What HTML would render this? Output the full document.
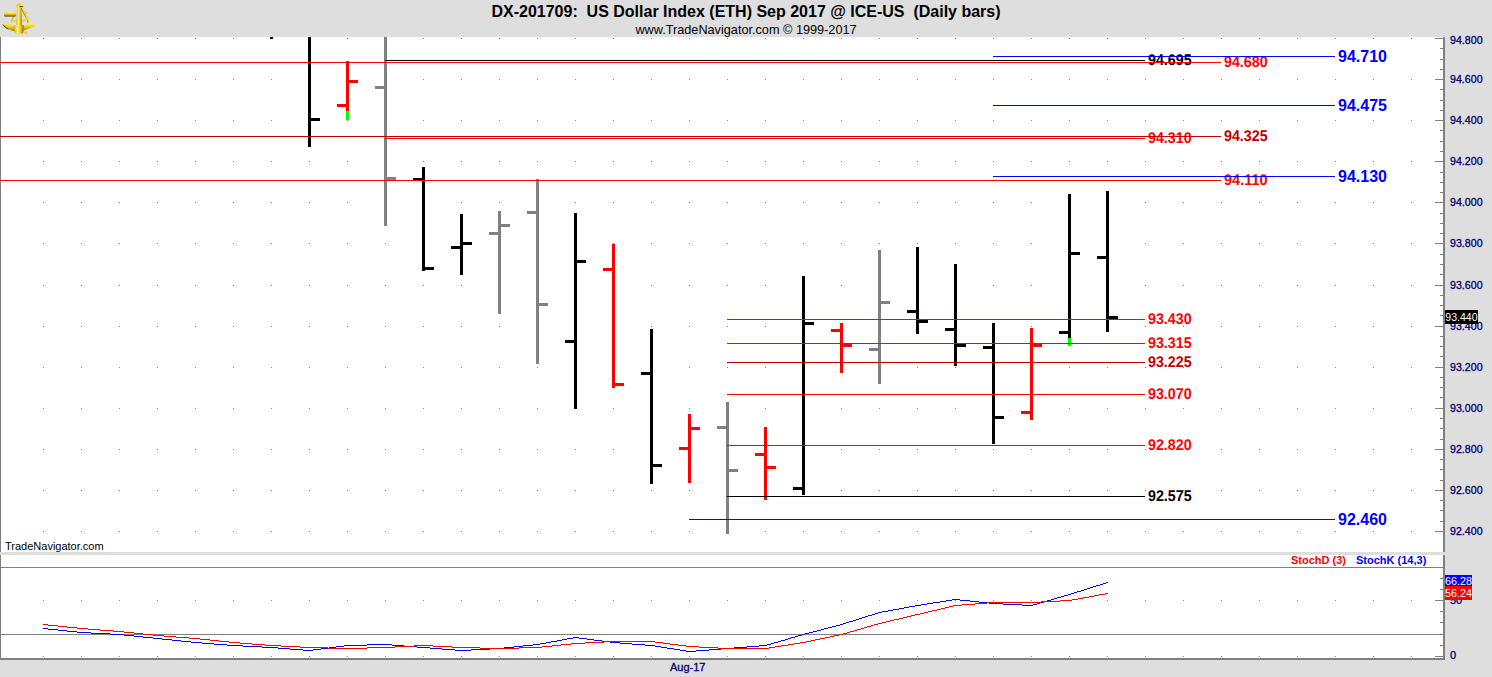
<!DOCTYPE html>
<html><head><meta charset="utf-8"><style>html,body{margin:0;padding:0;width:1492px;height:677px;overflow:hidden;background:#dedede}text{white-space:pre}</style></head>
<body><svg width="1492" height="677" viewBox="0 0 1492 677" shape-rendering="crispEdges" style="display:block"><rect x="0" y="0" width="1492" height="677" fill="#dedede"/>
<rect x="0" y="37" width="1444" height="515" fill="#ffffff"/>
<rect x="0" y="555" width="1444" height="103" fill="#ffffff"/>
<rect x="0" y="37" width="1" height="515" fill="#7f7f7f"/>
<rect x="0" y="555" width="1" height="104" fill="#7f7f7f"/>
<rect x="1443" y="37" width="2" height="515" fill="#7f7f7f"/>
<rect x="1443" y="555" width="2" height="104" fill="#7f7f7f"/>
<rect x="0" y="658" width="1445" height="2" fill="#7f7f7f"/>
<path d="M43 38h1v1h-1zM81 38h1v1h-1zM119 38h1v1h-1zM157 38h1v1h-1zM195 38h1v1h-1zM233 38h1v1h-1zM271 38h1v1h-1zM309 38h1v1h-1zM347 38h1v1h-1zM385 38h1v1h-1zM423 38h1v1h-1zM461 38h1v1h-1zM499 38h1v1h-1zM537 38h1v1h-1zM575 38h1v1h-1zM613 38h1v1h-1zM651 38h1v1h-1zM689 38h1v1h-1zM727 38h1v1h-1zM765 38h1v1h-1zM803 38h1v1h-1zM841 38h1v1h-1zM879 38h1v1h-1zM917 38h1v1h-1zM955 38h1v1h-1zM993 38h1v1h-1zM1031 38h1v1h-1zM1069 38h1v1h-1zM1107 38h1v1h-1zM1145 38h1v1h-1zM1183 38h1v1h-1zM1221 38h1v1h-1zM1259 38h1v1h-1zM1297 38h1v1h-1zM1335 38h1v1h-1zM1373 38h1v1h-1zM1411 38h1v1h-1zM43 79h1v1h-1zM81 79h1v1h-1zM119 79h1v1h-1zM157 79h1v1h-1zM195 79h1v1h-1zM233 79h1v1h-1zM271 79h1v1h-1zM309 79h1v1h-1zM347 79h1v1h-1zM385 79h1v1h-1zM423 79h1v1h-1zM461 79h1v1h-1zM499 79h1v1h-1zM537 79h1v1h-1zM575 79h1v1h-1zM613 79h1v1h-1zM651 79h1v1h-1zM689 79h1v1h-1zM727 79h1v1h-1zM765 79h1v1h-1zM803 79h1v1h-1zM841 79h1v1h-1zM879 79h1v1h-1zM917 79h1v1h-1zM955 79h1v1h-1zM993 79h1v1h-1zM1031 79h1v1h-1zM1069 79h1v1h-1zM1107 79h1v1h-1zM1145 79h1v1h-1zM1183 79h1v1h-1zM1221 79h1v1h-1zM1259 79h1v1h-1zM1297 79h1v1h-1zM1335 79h1v1h-1zM1373 79h1v1h-1zM1411 79h1v1h-1zM43 120h1v1h-1zM81 120h1v1h-1zM119 120h1v1h-1zM157 120h1v1h-1zM195 120h1v1h-1zM233 120h1v1h-1zM271 120h1v1h-1zM309 120h1v1h-1zM347 120h1v1h-1zM385 120h1v1h-1zM423 120h1v1h-1zM461 120h1v1h-1zM499 120h1v1h-1zM537 120h1v1h-1zM575 120h1v1h-1zM613 120h1v1h-1zM651 120h1v1h-1zM689 120h1v1h-1zM727 120h1v1h-1zM765 120h1v1h-1zM803 120h1v1h-1zM841 120h1v1h-1zM879 120h1v1h-1zM917 120h1v1h-1zM955 120h1v1h-1zM993 120h1v1h-1zM1031 120h1v1h-1zM1069 120h1v1h-1zM1107 120h1v1h-1zM1145 120h1v1h-1zM1183 120h1v1h-1zM1221 120h1v1h-1zM1259 120h1v1h-1zM1297 120h1v1h-1zM1335 120h1v1h-1zM1373 120h1v1h-1zM1411 120h1v1h-1zM43 161h1v1h-1zM81 161h1v1h-1zM119 161h1v1h-1zM157 161h1v1h-1zM195 161h1v1h-1zM233 161h1v1h-1zM271 161h1v1h-1zM309 161h1v1h-1zM347 161h1v1h-1zM385 161h1v1h-1zM423 161h1v1h-1zM461 161h1v1h-1zM499 161h1v1h-1zM537 161h1v1h-1zM575 161h1v1h-1zM613 161h1v1h-1zM651 161h1v1h-1zM689 161h1v1h-1zM727 161h1v1h-1zM765 161h1v1h-1zM803 161h1v1h-1zM841 161h1v1h-1zM879 161h1v1h-1zM917 161h1v1h-1zM955 161h1v1h-1zM993 161h1v1h-1zM1031 161h1v1h-1zM1069 161h1v1h-1zM1107 161h1v1h-1zM1145 161h1v1h-1zM1183 161h1v1h-1zM1221 161h1v1h-1zM1259 161h1v1h-1zM1297 161h1v1h-1zM1335 161h1v1h-1zM1373 161h1v1h-1zM1411 161h1v1h-1zM43 202h1v1h-1zM81 202h1v1h-1zM119 202h1v1h-1zM157 202h1v1h-1zM195 202h1v1h-1zM233 202h1v1h-1zM271 202h1v1h-1zM309 202h1v1h-1zM347 202h1v1h-1zM385 202h1v1h-1zM423 202h1v1h-1zM461 202h1v1h-1zM499 202h1v1h-1zM537 202h1v1h-1zM575 202h1v1h-1zM613 202h1v1h-1zM651 202h1v1h-1zM689 202h1v1h-1zM727 202h1v1h-1zM765 202h1v1h-1zM803 202h1v1h-1zM841 202h1v1h-1zM879 202h1v1h-1zM917 202h1v1h-1zM955 202h1v1h-1zM993 202h1v1h-1zM1031 202h1v1h-1zM1069 202h1v1h-1zM1107 202h1v1h-1zM1145 202h1v1h-1zM1183 202h1v1h-1zM1221 202h1v1h-1zM1259 202h1v1h-1zM1297 202h1v1h-1zM1335 202h1v1h-1zM1373 202h1v1h-1zM1411 202h1v1h-1zM43 243h1v1h-1zM81 243h1v1h-1zM119 243h1v1h-1zM157 243h1v1h-1zM195 243h1v1h-1zM233 243h1v1h-1zM271 243h1v1h-1zM309 243h1v1h-1zM347 243h1v1h-1zM385 243h1v1h-1zM423 243h1v1h-1zM461 243h1v1h-1zM499 243h1v1h-1zM537 243h1v1h-1zM575 243h1v1h-1zM613 243h1v1h-1zM651 243h1v1h-1zM689 243h1v1h-1zM727 243h1v1h-1zM765 243h1v1h-1zM803 243h1v1h-1zM841 243h1v1h-1zM879 243h1v1h-1zM917 243h1v1h-1zM955 243h1v1h-1zM993 243h1v1h-1zM1031 243h1v1h-1zM1069 243h1v1h-1zM1107 243h1v1h-1zM1145 243h1v1h-1zM1183 243h1v1h-1zM1221 243h1v1h-1zM1259 243h1v1h-1zM1297 243h1v1h-1zM1335 243h1v1h-1zM1373 243h1v1h-1zM1411 243h1v1h-1zM43 285h1v1h-1zM81 285h1v1h-1zM119 285h1v1h-1zM157 285h1v1h-1zM195 285h1v1h-1zM233 285h1v1h-1zM271 285h1v1h-1zM309 285h1v1h-1zM347 285h1v1h-1zM385 285h1v1h-1zM423 285h1v1h-1zM461 285h1v1h-1zM499 285h1v1h-1zM537 285h1v1h-1zM575 285h1v1h-1zM613 285h1v1h-1zM651 285h1v1h-1zM689 285h1v1h-1zM727 285h1v1h-1zM765 285h1v1h-1zM803 285h1v1h-1zM841 285h1v1h-1zM879 285h1v1h-1zM917 285h1v1h-1zM955 285h1v1h-1zM993 285h1v1h-1zM1031 285h1v1h-1zM1069 285h1v1h-1zM1107 285h1v1h-1zM1145 285h1v1h-1zM1183 285h1v1h-1zM1221 285h1v1h-1zM1259 285h1v1h-1zM1297 285h1v1h-1zM1335 285h1v1h-1zM1373 285h1v1h-1zM1411 285h1v1h-1zM43 326h1v1h-1zM81 326h1v1h-1zM119 326h1v1h-1zM157 326h1v1h-1zM195 326h1v1h-1zM233 326h1v1h-1zM271 326h1v1h-1zM309 326h1v1h-1zM347 326h1v1h-1zM385 326h1v1h-1zM423 326h1v1h-1zM461 326h1v1h-1zM499 326h1v1h-1zM537 326h1v1h-1zM575 326h1v1h-1zM613 326h1v1h-1zM651 326h1v1h-1zM689 326h1v1h-1zM727 326h1v1h-1zM765 326h1v1h-1zM803 326h1v1h-1zM841 326h1v1h-1zM879 326h1v1h-1zM917 326h1v1h-1zM955 326h1v1h-1zM993 326h1v1h-1zM1031 326h1v1h-1zM1069 326h1v1h-1zM1107 326h1v1h-1zM1145 326h1v1h-1zM1183 326h1v1h-1zM1221 326h1v1h-1zM1259 326h1v1h-1zM1297 326h1v1h-1zM1335 326h1v1h-1zM1373 326h1v1h-1zM1411 326h1v1h-1zM43 367h1v1h-1zM81 367h1v1h-1zM119 367h1v1h-1zM157 367h1v1h-1zM195 367h1v1h-1zM233 367h1v1h-1zM271 367h1v1h-1zM309 367h1v1h-1zM347 367h1v1h-1zM385 367h1v1h-1zM423 367h1v1h-1zM461 367h1v1h-1zM499 367h1v1h-1zM537 367h1v1h-1zM575 367h1v1h-1zM613 367h1v1h-1zM651 367h1v1h-1zM689 367h1v1h-1zM727 367h1v1h-1zM765 367h1v1h-1zM803 367h1v1h-1zM841 367h1v1h-1zM879 367h1v1h-1zM917 367h1v1h-1zM955 367h1v1h-1zM993 367h1v1h-1zM1031 367h1v1h-1zM1069 367h1v1h-1zM1107 367h1v1h-1zM1145 367h1v1h-1zM1183 367h1v1h-1zM1221 367h1v1h-1zM1259 367h1v1h-1zM1297 367h1v1h-1zM1335 367h1v1h-1zM1373 367h1v1h-1zM1411 367h1v1h-1zM43 408h1v1h-1zM81 408h1v1h-1zM119 408h1v1h-1zM157 408h1v1h-1zM195 408h1v1h-1zM233 408h1v1h-1zM271 408h1v1h-1zM309 408h1v1h-1zM347 408h1v1h-1zM385 408h1v1h-1zM423 408h1v1h-1zM461 408h1v1h-1zM499 408h1v1h-1zM537 408h1v1h-1zM575 408h1v1h-1zM613 408h1v1h-1zM651 408h1v1h-1zM689 408h1v1h-1zM727 408h1v1h-1zM765 408h1v1h-1zM803 408h1v1h-1zM841 408h1v1h-1zM879 408h1v1h-1zM917 408h1v1h-1zM955 408h1v1h-1zM993 408h1v1h-1zM1031 408h1v1h-1zM1069 408h1v1h-1zM1107 408h1v1h-1zM1145 408h1v1h-1zM1183 408h1v1h-1zM1221 408h1v1h-1zM1259 408h1v1h-1zM1297 408h1v1h-1zM1335 408h1v1h-1zM1373 408h1v1h-1zM1411 408h1v1h-1zM43 449h1v1h-1zM81 449h1v1h-1zM119 449h1v1h-1zM157 449h1v1h-1zM195 449h1v1h-1zM233 449h1v1h-1zM271 449h1v1h-1zM309 449h1v1h-1zM347 449h1v1h-1zM385 449h1v1h-1zM423 449h1v1h-1zM461 449h1v1h-1zM499 449h1v1h-1zM537 449h1v1h-1zM575 449h1v1h-1zM613 449h1v1h-1zM651 449h1v1h-1zM689 449h1v1h-1zM727 449h1v1h-1zM765 449h1v1h-1zM803 449h1v1h-1zM841 449h1v1h-1zM879 449h1v1h-1zM917 449h1v1h-1zM955 449h1v1h-1zM993 449h1v1h-1zM1031 449h1v1h-1zM1069 449h1v1h-1zM1107 449h1v1h-1zM1145 449h1v1h-1zM1183 449h1v1h-1zM1221 449h1v1h-1zM1259 449h1v1h-1zM1297 449h1v1h-1zM1335 449h1v1h-1zM1373 449h1v1h-1zM1411 449h1v1h-1zM43 490h1v1h-1zM81 490h1v1h-1zM119 490h1v1h-1zM157 490h1v1h-1zM195 490h1v1h-1zM233 490h1v1h-1zM271 490h1v1h-1zM309 490h1v1h-1zM347 490h1v1h-1zM385 490h1v1h-1zM423 490h1v1h-1zM461 490h1v1h-1zM499 490h1v1h-1zM537 490h1v1h-1zM575 490h1v1h-1zM613 490h1v1h-1zM651 490h1v1h-1zM689 490h1v1h-1zM727 490h1v1h-1zM765 490h1v1h-1zM803 490h1v1h-1zM841 490h1v1h-1zM879 490h1v1h-1zM917 490h1v1h-1zM955 490h1v1h-1zM993 490h1v1h-1zM1031 490h1v1h-1zM1069 490h1v1h-1zM1107 490h1v1h-1zM1145 490h1v1h-1zM1183 490h1v1h-1zM1221 490h1v1h-1zM1259 490h1v1h-1zM1297 490h1v1h-1zM1335 490h1v1h-1zM1373 490h1v1h-1zM1411 490h1v1h-1zM43 531h1v1h-1zM81 531h1v1h-1zM119 531h1v1h-1zM157 531h1v1h-1zM195 531h1v1h-1zM233 531h1v1h-1zM271 531h1v1h-1zM309 531h1v1h-1zM347 531h1v1h-1zM385 531h1v1h-1zM423 531h1v1h-1zM461 531h1v1h-1zM499 531h1v1h-1zM537 531h1v1h-1zM575 531h1v1h-1zM613 531h1v1h-1zM651 531h1v1h-1zM689 531h1v1h-1zM727 531h1v1h-1zM765 531h1v1h-1zM803 531h1v1h-1zM841 531h1v1h-1zM879 531h1v1h-1zM917 531h1v1h-1zM955 531h1v1h-1zM993 531h1v1h-1zM1031 531h1v1h-1zM1069 531h1v1h-1zM1107 531h1v1h-1zM1145 531h1v1h-1zM1183 531h1v1h-1zM1221 531h1v1h-1zM1259 531h1v1h-1zM1297 531h1v1h-1zM1335 531h1v1h-1zM1373 531h1v1h-1zM1411 531h1v1h-1zM43 600h1v1h-1zM81 600h1v1h-1zM119 600h1v1h-1zM157 600h1v1h-1zM195 600h1v1h-1zM233 600h1v1h-1zM271 600h1v1h-1zM309 600h1v1h-1zM347 600h1v1h-1zM385 600h1v1h-1zM423 600h1v1h-1zM461 600h1v1h-1zM499 600h1v1h-1zM537 600h1v1h-1zM575 600h1v1h-1zM613 600h1v1h-1zM651 600h1v1h-1zM689 600h1v1h-1zM727 600h1v1h-1zM765 600h1v1h-1zM803 600h1v1h-1zM841 600h1v1h-1zM879 600h1v1h-1zM917 600h1v1h-1zM955 600h1v1h-1zM993 600h1v1h-1zM1031 600h1v1h-1zM1069 600h1v1h-1zM1107 600h1v1h-1zM1145 600h1v1h-1zM1183 600h1v1h-1zM1221 600h1v1h-1zM1259 600h1v1h-1zM1297 600h1v1h-1zM1335 600h1v1h-1zM1373 600h1v1h-1zM1411 600h1v1h-1zM43 656h1v1h-1zM81 656h1v1h-1zM119 656h1v1h-1zM157 656h1v1h-1zM195 656h1v1h-1zM233 656h1v1h-1zM271 656h1v1h-1zM309 656h1v1h-1zM347 656h1v1h-1zM385 656h1v1h-1zM423 656h1v1h-1zM461 656h1v1h-1zM499 656h1v1h-1zM537 656h1v1h-1zM575 656h1v1h-1zM613 656h1v1h-1zM651 656h1v1h-1zM689 656h1v1h-1zM727 656h1v1h-1zM765 656h1v1h-1zM803 656h1v1h-1zM841 656h1v1h-1zM879 656h1v1h-1zM917 656h1v1h-1zM955 656h1v1h-1zM993 656h1v1h-1zM1031 656h1v1h-1zM1069 656h1v1h-1zM1107 656h1v1h-1zM1145 656h1v1h-1zM1183 656h1v1h-1zM1221 656h1v1h-1zM1259 656h1v1h-1zM1297 656h1v1h-1zM1335 656h1v1h-1zM1373 656h1v1h-1zM1411 656h1v1h-1z" fill="#808080"/>
<rect x="1" y="567" width="1442" height="1" fill="#808080"/>
<rect x="1" y="634" width="1442" height="1" fill="#808080"/>
<path d="M1435 38h8v1h-8zM1440 48h3v1h-3zM1440 59h3v1h-3zM1440 69h3v1h-3zM1435 79h8v1h-8zM1440 89h3v1h-3zM1440 100h3v1h-3zM1440 110h3v1h-3zM1435 120h8v1h-8zM1440 130h3v1h-3zM1440 141h3v1h-3zM1440 151h3v1h-3zM1435 161h8v1h-8zM1440 172h3v1h-3zM1440 182h3v1h-3zM1440 192h3v1h-3zM1435 202h8v1h-8zM1440 213h3v1h-3zM1440 223h3v1h-3zM1440 233h3v1h-3zM1435 243h8v1h-8zM1440 254h3v1h-3zM1440 264h3v1h-3zM1440 274h3v1h-3zM1435 285h8v1h-8zM1440 295h3v1h-3zM1440 305h3v1h-3zM1440 315h3v1h-3zM1435 326h8v1h-8zM1440 336h3v1h-3zM1440 346h3v1h-3zM1440 356h3v1h-3zM1435 367h8v1h-8zM1440 377h3v1h-3zM1440 387h3v1h-3zM1440 397h3v1h-3zM1435 408h8v1h-8zM1440 418h3v1h-3zM1440 428h3v1h-3zM1440 439h3v1h-3zM1435 449h8v1h-8zM1440 459h3v1h-3zM1440 469h3v1h-3zM1440 480h3v1h-3zM1435 490h8v1h-8zM1440 500h3v1h-3zM1440 510h3v1h-3zM1440 521h3v1h-3zM1435 531h8v1h-8zM1435 656h8v1h-8zM1440 645h3v1h-3zM1440 634h3v1h-3zM1440 622h3v1h-3zM1440 611h3v1h-3zM1435 600h8v1h-8zM1440 589h3v1h-3zM1440 578h3v1h-3z" fill="#7f7f7f"/>
<g font-family="Liberation Sans, sans-serif" font-size="11" fill="#000070" stroke="#000070" stroke-width="0.3"><text x="1450" y="44" textLength="32.6" lengthAdjust="spacingAndGlyphs">94.800</text><text x="1450" y="83" textLength="32.6" lengthAdjust="spacingAndGlyphs">94.600</text><text x="1450" y="124" textLength="32.6" lengthAdjust="spacingAndGlyphs">94.400</text><text x="1450" y="165" textLength="32.6" lengthAdjust="spacingAndGlyphs">94.200</text><text x="1450" y="206" textLength="32.6" lengthAdjust="spacingAndGlyphs">94.000</text><text x="1450" y="247" textLength="32.6" lengthAdjust="spacingAndGlyphs">93.800</text><text x="1450" y="289" textLength="32.6" lengthAdjust="spacingAndGlyphs">93.600</text><text x="1450" y="330" textLength="32.6" lengthAdjust="spacingAndGlyphs">93.400</text><text x="1450" y="371" textLength="32.6" lengthAdjust="spacingAndGlyphs">93.200</text><text x="1450" y="412" textLength="32.6" lengthAdjust="spacingAndGlyphs">93.000</text><text x="1450" y="453" textLength="32.6" lengthAdjust="spacingAndGlyphs">92.800</text><text x="1450" y="494" textLength="32.6" lengthAdjust="spacingAndGlyphs">92.600</text><text x="1450" y="535" textLength="32.6" lengthAdjust="spacingAndGlyphs">92.400</text><text x="1450" y="604">50</text><text x="1450" y="659">0</text></g>
<rect x="270" y="37" width="3" height="2" fill="#000000"/>
<rect x="308" y="37" width="3" height="110" fill="#000000"/>
<rect x="311" y="118" width="9" height="3" fill="#000000"/>
<rect x="346" y="61" width="3" height="59" fill="#ff0000"/>
<rect x="337" y="104" width="9" height="3" fill="#ff0000"/>
<rect x="349" y="80" width="9" height="3" fill="#ff0000"/>
<rect x="384" y="37" width="3" height="189" fill="#808080"/>
<rect x="375" y="86" width="9" height="3" fill="#808080"/>
<rect x="387" y="177" width="9" height="3" fill="#808080"/>
<rect x="422" y="167" width="3" height="104" fill="#000000"/>
<rect x="413" y="178" width="9" height="3" fill="#000000"/>
<rect x="425" y="267" width="9" height="3" fill="#000000"/>
<rect x="460" y="214" width="3" height="61" fill="#000000"/>
<rect x="451" y="246" width="9" height="3" fill="#000000"/>
<rect x="463" y="242" width="9" height="3" fill="#000000"/>
<rect x="498" y="211" width="3" height="103" fill="#808080"/>
<rect x="489" y="232" width="9" height="3" fill="#808080"/>
<rect x="501" y="224" width="9" height="3" fill="#808080"/>
<rect x="536" y="179" width="3" height="185" fill="#808080"/>
<rect x="527" y="211" width="9" height="3" fill="#808080"/>
<rect x="539" y="303" width="9" height="3" fill="#808080"/>
<rect x="574" y="213" width="3" height="196" fill="#000000"/>
<rect x="565" y="340" width="9" height="3" fill="#000000"/>
<rect x="577" y="260" width="9" height="3" fill="#000000"/>
<rect x="612" y="244" width="3" height="144" fill="#ff0000"/>
<rect x="603" y="268" width="9" height="3" fill="#ff0000"/>
<rect x="615" y="383" width="9" height="3" fill="#ff0000"/>
<rect x="650" y="329" width="3" height="155" fill="#000000"/>
<rect x="641" y="372" width="9" height="3" fill="#000000"/>
<rect x="653" y="464" width="9" height="3" fill="#000000"/>
<rect x="688" y="414" width="3" height="69" fill="#ff0000"/>
<rect x="679" y="447" width="9" height="3" fill="#ff0000"/>
<rect x="691" y="427" width="9" height="3" fill="#ff0000"/>
<rect x="726" y="402" width="3" height="132" fill="#808080"/>
<rect x="717" y="426" width="9" height="3" fill="#808080"/>
<rect x="729" y="469" width="9" height="3" fill="#808080"/>
<rect x="764" y="427" width="3" height="73" fill="#ff0000"/>
<rect x="755" y="453" width="9" height="3" fill="#ff0000"/>
<rect x="767" y="466" width="9" height="3" fill="#ff0000"/>
<rect x="802" y="276" width="3" height="219" fill="#000000"/>
<rect x="793" y="487" width="9" height="3" fill="#000000"/>
<rect x="805" y="322" width="9" height="3" fill="#000000"/>
<rect x="840" y="323" width="3" height="50" fill="#ff0000"/>
<rect x="831" y="329" width="9" height="3" fill="#ff0000"/>
<rect x="843" y="344" width="9" height="3" fill="#ff0000"/>
<rect x="878" y="250" width="3" height="134" fill="#808080"/>
<rect x="869" y="348" width="9" height="3" fill="#808080"/>
<rect x="881" y="301" width="9" height="3" fill="#808080"/>
<rect x="916" y="247" width="3" height="87" fill="#000000"/>
<rect x="907" y="310" width="9" height="3" fill="#000000"/>
<rect x="919" y="320" width="9" height="3" fill="#000000"/>
<rect x="954" y="264" width="3" height="102" fill="#000000"/>
<rect x="945" y="328" width="9" height="3" fill="#000000"/>
<rect x="957" y="344" width="9" height="3" fill="#000000"/>
<rect x="992" y="323" width="3" height="121" fill="#000000"/>
<rect x="983" y="346" width="9" height="3" fill="#000000"/>
<rect x="995" y="416" width="9" height="3" fill="#000000"/>
<rect x="1030" y="328" width="3" height="92" fill="#ff0000"/>
<rect x="1021" y="411" width="9" height="3" fill="#ff0000"/>
<rect x="1033" y="344" width="9" height="3" fill="#ff0000"/>
<rect x="1068" y="194" width="3" height="152" fill="#000000"/>
<rect x="1059" y="331" width="9" height="3" fill="#000000"/>
<rect x="1071" y="252" width="9" height="3" fill="#000000"/>
<rect x="1106" y="191" width="3" height="141" fill="#000000"/>
<rect x="1097" y="256" width="9" height="3" fill="#000000"/>
<rect x="1109" y="316" width="9" height="3" fill="#000000"/>
<rect x="346" y="111" width="3" height="9" fill="#00ff00"/>
<rect x="1068" y="338" width="3" height="8" fill="#00ff00"/>
<g font-family="Liberation Sans, sans-serif" font-weight="bold"><text x="1224" y="66.6" fill="#ff0000" font-size="15.5" text-rendering="geometricPrecision" textLength="43.6" lengthAdjust="spacingAndGlyphs">94.680</text><text x="1224" y="140.6" fill="#c00000" font-size="15.5" text-rendering="geometricPrecision" textLength="43.6" lengthAdjust="spacingAndGlyphs">94.325</text><text x="1224" y="184.6" fill="#ff0000" font-size="15.5" text-rendering="geometricPrecision" textLength="43.6" lengthAdjust="spacingAndGlyphs">94.110</text><text x="1148" y="64.6" fill="#000000" font-size="15.5" text-rendering="geometricPrecision" textLength="43.6" lengthAdjust="spacingAndGlyphs">94.695</text><text x="1148" y="142.6" fill="#ff0000" font-size="15.5" text-rendering="geometricPrecision" textLength="43.6" lengthAdjust="spacingAndGlyphs">94.310</text><text x="1148" y="323.6" fill="#ff0000" font-size="15.5" text-rendering="geometricPrecision" textLength="43.6" lengthAdjust="spacingAndGlyphs">93.430</text><text x="1148" y="347.6" fill="#ff0000" font-size="15.5" text-rendering="geometricPrecision" textLength="43.6" lengthAdjust="spacingAndGlyphs">93.315</text><text x="1148" y="366.6" fill="#c00000" font-size="15.5" text-rendering="geometricPrecision" textLength="43.6" lengthAdjust="spacingAndGlyphs">93.225</text><text x="1148" y="398.6" fill="#ff0000" font-size="15.5" text-rendering="geometricPrecision" textLength="43.6" lengthAdjust="spacingAndGlyphs">93.070</text><text x="1148" y="449.6" fill="#ff0000" font-size="15.5" text-rendering="geometricPrecision" textLength="43.6" lengthAdjust="spacingAndGlyphs">92.820</text><text x="1148" y="500.6" fill="#000000" font-size="15.5" text-rendering="geometricPrecision" textLength="43.6" lengthAdjust="spacingAndGlyphs">92.575</text><text x="1338" y="62" fill="#0000ff" font-size="16">94.710</text><text x="1338" y="111" fill="#0000ff" font-size="16">94.475</text><text x="1338" y="182" fill="#0000ff" font-size="16">94.130</text><text x="1338" y="525" fill="#0000ff" font-size="16">92.460</text></g>
<rect x="0" y="62" width="1221" height="1" fill="#ff0000"/>
<rect x="0" y="136" width="1221" height="1" fill="#c00000"/>
<rect x="0" y="180" width="1221" height="1" fill="#ff0000"/>
<rect x="385" y="60" width="760" height="1" fill="#000000"/>
<rect x="385" y="138" width="760" height="1" fill="#ff0000"/>
<rect x="727" y="319" width="418" height="1" fill="#ff0000"/>
<rect x="727" y="343" width="418" height="1" fill="#ff0000"/>
<rect x="727" y="362" width="418" height="1" fill="#c00000"/>
<rect x="727" y="394" width="418" height="1" fill="#ff0000"/>
<rect x="727" y="445" width="418" height="1" fill="#ff0000"/>
<rect x="727" y="496" width="418" height="1" fill="#000000"/>
<rect x="993" y="56" width="342" height="1" fill="#0000ff"/>
<rect x="993" y="105" width="342" height="1" fill="#0000ff"/>
<rect x="993" y="176" width="342" height="1" fill="#0000ff"/>
<rect x="689" y="519" width="646" height="1" fill="#0000ff"/>
<path d="M43 628h5v1h-5zM48 629h10v1h-10zM58 630h9v1h-9zM67 631h10v1h-10zM77 632h14v1h-14zM91 633h19v1h-19zM110 634h14v1h-14zM124 635h10v1h-10zM134 636h9v1h-9zM143 637h10v1h-10zM153 638h9v1h-9zM162 639h10v1h-10zM172 640h9v1h-9zM181 641h10v1h-10zM191 642h11v1h-11zM202 643h12v1h-12zM214 644h13v1h-13zM227 645h16v1h-16zM243 646h19v1h-19zM262 647h16v1h-16zM278 648h12v1h-12zM290 649h13v1h-13zM303 650h10v1h-10zM313 649h8v1h-8zM321 648h8v1h-8zM329 647h7v1h-7zM336 646h8v1h-8zM344 645h23v1h-23zM367 644h25v1h-25zM392 645h12v1h-12zM404 646h13v1h-13zM417 647h13v1h-13zM430 648h12v1h-12zM442 649h13v1h-13zM455 650h16v1h-16zM471 649h19v1h-19zM490 648h14v1h-14zM504 647h10v1h-10zM514 646h9v1h-9zM523 645h10v1h-10zM533 644h7v1h-7zM540 643h6v1h-6zM546 642h5v1h-5zM551 641h6v1h-6zM557 640h5v1h-5zM562 639h5v1h-5zM567 638h6v1h-6zM573 637h6v1h-6zM579 638h8v1h-8zM587 639h7v1h-7zM594 640h8v1h-8zM602 641h8v1h-8zM610 642h10v1h-10zM620 643h12v1h-12zM632 644h13v1h-13zM645 645h10v1h-10zM655 646h6v1h-6zM661 647h6v1h-6zM667 648h7v1h-7zM674 649h6v1h-6zM680 650h6v1h-6zM686 651h10v1h-10zM696 650h13v1h-13zM709 649h12v1h-12zM721 648h13v1h-13zM734 647h13v1h-13zM747 646h12v1h-12zM759 645h8v1h-8zM767 644h4v1h-4zM771 643h3v1h-3zM774 642h4v1h-4zM778 641h3v1h-3zM781 640h4v1h-4zM785 639h3v1h-3zM788 638h3v1h-3zM791 637h4v1h-4zM795 636h3v1h-3zM798 635h4v1h-4zM802 634h3v1h-3zM805 633h4v1h-4zM809 632h4v1h-4zM813 631h4v1h-4zM817 630h4v1h-4zM821 629h3v1h-3zM824 628h4v1h-4zM828 627h4v1h-4zM832 626h4v1h-4zM836 625h4v1h-4zM840 624h3v1h-3zM843 623h3v1h-3zM846 622h3v1h-3zM849 621h4v1h-4zM853 620h3v1h-3zM856 619h3v1h-3zM859 618h3v1h-3zM862 617h3v1h-3zM865 616h3v1h-3zM868 615h4v1h-4zM872 614h3v1h-3zM875 613h3v1h-3zM878 612h4v1h-4zM882 611h6v1h-6zM888 610h5v1h-5zM893 609h6v1h-6zM899 608h5v1h-5zM904 607h5v1h-5zM909 606h6v1h-6zM915 605h6v1h-6zM921 604h6v1h-6zM927 603h6v1h-6zM933 602h7v1h-7zM940 601h6v1h-6zM946 600h6v1h-6zM952 599h8v1h-8zM960 600h10v1h-10zM970 601h9v1h-9zM979 602h10v1h-10zM989 603h14v1h-14zM1003 604h19v1h-19zM1022 605h11v1h-11zM1033 604h4v1h-4zM1037 603h3v1h-3zM1040 602h4v1h-4zM1044 601h3v1h-3zM1047 600h4v1h-4zM1051 599h3v1h-3zM1054 598h3v1h-3zM1057 597h4v1h-4zM1061 596h3v1h-3zM1064 595h4v1h-4zM1068 594h3v1h-3zM1071 593h3v1h-3zM1074 592h3v1h-3zM1077 591h4v1h-4zM1081 590h3v1h-3zM1084 589h3v1h-3zM1087 588h3v1h-3zM1090 587h3v1h-3zM1093 586h3v1h-3zM1096 585h4v1h-4zM1100 584h3v1h-3zM1103 583h3v1h-3zM1106 582h2v1h-2z" fill="#0000ff"/>
<path d="M43 624h5v1h-5zM48 625h10v1h-10zM58 626h9v1h-9zM67 627h10v1h-10zM77 628h11v1h-11zM88 629h12v1h-12zM100 630h13v1h-13zM113 631h11v1h-11zM124 632h10v1h-10zM134 633h9v1h-9zM143 634h10v1h-10zM153 635h11v1h-11zM164 636h12v1h-12zM176 637h13v1h-13zM189 638h11v1h-11zM200 639h10v1h-10zM210 640h9v1h-9zM219 641h10v1h-10zM229 642h11v1h-11zM240 643h12v1h-12zM252 644h13v1h-13zM265 645h16v1h-16zM281 646h19v1h-19zM300 647h28v1h-28zM328 648h39v1h-39zM367 647h28v1h-28zM395 646h19v1h-19zM414 645h19v1h-19zM433 646h19v1h-19zM452 647h28v1h-28zM480 648h39v1h-39zM519 647h23v1h-23zM542 646h10v1h-10zM552 645h9v1h-9zM561 644h10v1h-10zM571 643h14v1h-14zM585 642h19v1h-19zM604 641h51v1h-51zM655 642h8v1h-8zM663 643h7v1h-7zM670 644h8v1h-8zM678 645h8v1h-8zM686 646h13v1h-13zM699 647h19v1h-19zM718 648h51v1h-51zM769 647h6v1h-6zM775 646h6v1h-6zM781 645h7v1h-7zM788 644h6v1h-6zM794 643h6v1h-6zM800 642h6v1h-6zM806 641h5v1h-5zM811 640h4v1h-4zM815 639h5v1h-5zM820 638h5v1h-5zM825 637h5v1h-5zM830 636h4v1h-4zM834 635h5v1h-5zM839 634h4v1h-4zM843 633h4v1h-4zM847 632h3v1h-3zM850 631h4v1h-4zM854 630h3v1h-3zM857 629h4v1h-4zM861 628h3v1h-3zM864 627h3v1h-3zM867 626h4v1h-4zM871 625h3v1h-3zM874 624h4v1h-4zM878 623h4v1h-4zM882 622h4v1h-4zM886 621h4v1h-4zM890 620h4v1h-4zM894 619h5v1h-5zM899 618h4v1h-4zM903 617h4v1h-4zM907 616h4v1h-4zM911 615h4v1h-4zM915 614h5v1h-5zM920 613h4v1h-4zM924 612h4v1h-4zM928 611h4v1h-4zM932 610h5v1h-5zM937 609h4v1h-4zM941 608h4v1h-4zM945 607h4v1h-4zM949 606h4v1h-4zM953 605h9v1h-9zM962 604h13v1h-13zM975 603h12v1h-12zM987 602h54v1h-54zM1041 601h19v1h-19zM1060 600h12v1h-12zM1072 599h6v1h-6zM1078 598h5v1h-5zM1083 597h6v1h-6zM1089 596h5v1h-5zM1094 595h5v1h-5zM1099 594h6v1h-6zM1105 593h3v1h-3z" fill="#ff0000"/>
<g font-family="Liberation Sans, sans-serif" font-weight="bold" font-size="11"><text x="1291" y="564" fill="#ff0000">StochD (3)</text><text x="1356" y="564" fill="#0000ff">StochK (14,3)</text></g>
<rect x="1445" y="310" width="33" height="14" fill="#000000"/>
<rect x="1445" y="575" width="27" height="11" fill="#0000ff"/>
<rect x="1445" y="586" width="27" height="14" fill="#ff0000"/>
<g font-family="Liberation Sans, sans-serif" font-size="11" fill="#ffffff"><text x="1445.3" y="321" textLength="32.3" lengthAdjust="spacingAndGlyphs">93.440</text><text x="1445" y="585" textLength="27" lengthAdjust="spacingAndGlyphs">66.28</text><text x="1445" y="597" textLength="27" lengthAdjust="spacingAndGlyphs">56.24</text></g>
<g>
<defs>
<linearGradient id="tg" x1="0" y1="0" x2="0" y2="1"><stop offset="0" stop-color="#fff6a0"/><stop offset="0.35" stop-color="#f5d830"/><stop offset="0.7" stop-color="#c9a400"/><stop offset="1" stop-color="#2a2200"/></linearGradient>
<linearGradient id="cg" x1="0" y1="0" x2="1" y2="0"><stop offset="0" stop-color="#d8b400"/><stop offset="0.35" stop-color="#fff080"/><stop offset="0.7" stop-color="#e6c420"/><stop offset="1" stop-color="#8a6c00"/></linearGradient>
<linearGradient id="ag" x1="0" y1="0" x2="0" y2="1"><stop offset="0" stop-color="#fff18a"/><stop offset="0.5" stop-color="#f0cf22"/><stop offset="1" stop-color="#9c7e00"/></linearGradient>
</defs>
<path d="M15.5 11.5 L11 22.5" stroke="#e8c41a" stroke-width="1.6" fill="none" shape-rendering="geometricPrecision"/>
<path d="M21.5 8.5 L25 15 L28.5 23" stroke="#5a4600" stroke-width="1" fill="none" shape-rendering="geometricPrecision"/>
<path d="M22.5 9 L26 15.5 L29 23" stroke="#efcf2a" stroke-width="1.4" fill="none" shape-rendering="geometricPrecision"/>
<path d="M11.5 20.5 Q19 22 28 19.5" stroke="#f2d22e" stroke-width="1.4" fill="none" shape-rendering="geometricPrecision"/>
<path d="M24 11.5 h3 v2.5 h-3z M25.5 16 h2.5 v3 h-2.5z" fill="#efd030" shape-rendering="geometricPrecision"/>
<rect x="4" y="11.8" width="12" height="4.8" rx="1" fill="url(#tg)" shape-rendering="geometricPrecision"/>
<path d="M2.8 23 C6 23.8 11 24.8 14 25.8 L24 25.8 C27 24 29.5 22.3 31.5 22.3 L35.2 25.6 C33 27.2 28 29.2 24 30.6 L14 31.2 C10 30.2 6 28.2 3.3 26 Z" fill="url(#ag)" shape-rendering="geometricPrecision"/>
<path d="M2.8 24.5 Q5 27.5 8.5 29.3" stroke="#3a3000" stroke-width="0.9" fill="none" shape-rendering="geometricPrecision"/>
<path d="M17 7 L21.3 7 L21.8 25 L16.5 25 Z" fill="url(#cg)" shape-rendering="geometricPrecision"/>
<path d="M14.2 25 L23.6 25 L23.4 33 Q19 35.2 14.6 33 Z" fill="url(#cg)" shape-rendering="geometricPrecision"/>
<path d="M15.5 7.2 Q17 2.5 19.5 2.8 Q22 3.2 23.2 6.6 Z" fill="#f3d42a" shape-rendering="geometricPrecision"/>
<path d="M19.5 6.6 h3.8" stroke="#3a2e00" stroke-width="0.8" shape-rendering="geometricPrecision"/>
<path d="M23 32.5 h3 M26.2 31.3 v3.2" stroke="#e8c41a" stroke-width="1.2" shape-rendering="geometricPrecision"/>
</g>
<text x="5" y="550" font-family="Liberation Sans, sans-serif" font-size="11" fill="#000">TradeNavigator.com</text>
<text x="746" y="17" text-anchor="middle" font-family="Liberation Sans, sans-serif" font-weight="bold" font-size="16" fill="#000">DX-201709:  US Dollar Index (ETH) Sep 2017 @ ICE-US  (Daily bars)</text>
<text x="746" y="34" text-anchor="middle" font-family="Liberation Sans, sans-serif" font-size="12.7" fill="#000">www.TradeNavigator.com © 1999-2017</text>
<text x="670" y="671" font-family="Liberation Sans, sans-serif" font-size="11" fill="#000070" stroke="#000070" stroke-width="0.3" textLength="35.5" lengthAdjust="spacingAndGlyphs">Aug-17</text></svg></body></html>
